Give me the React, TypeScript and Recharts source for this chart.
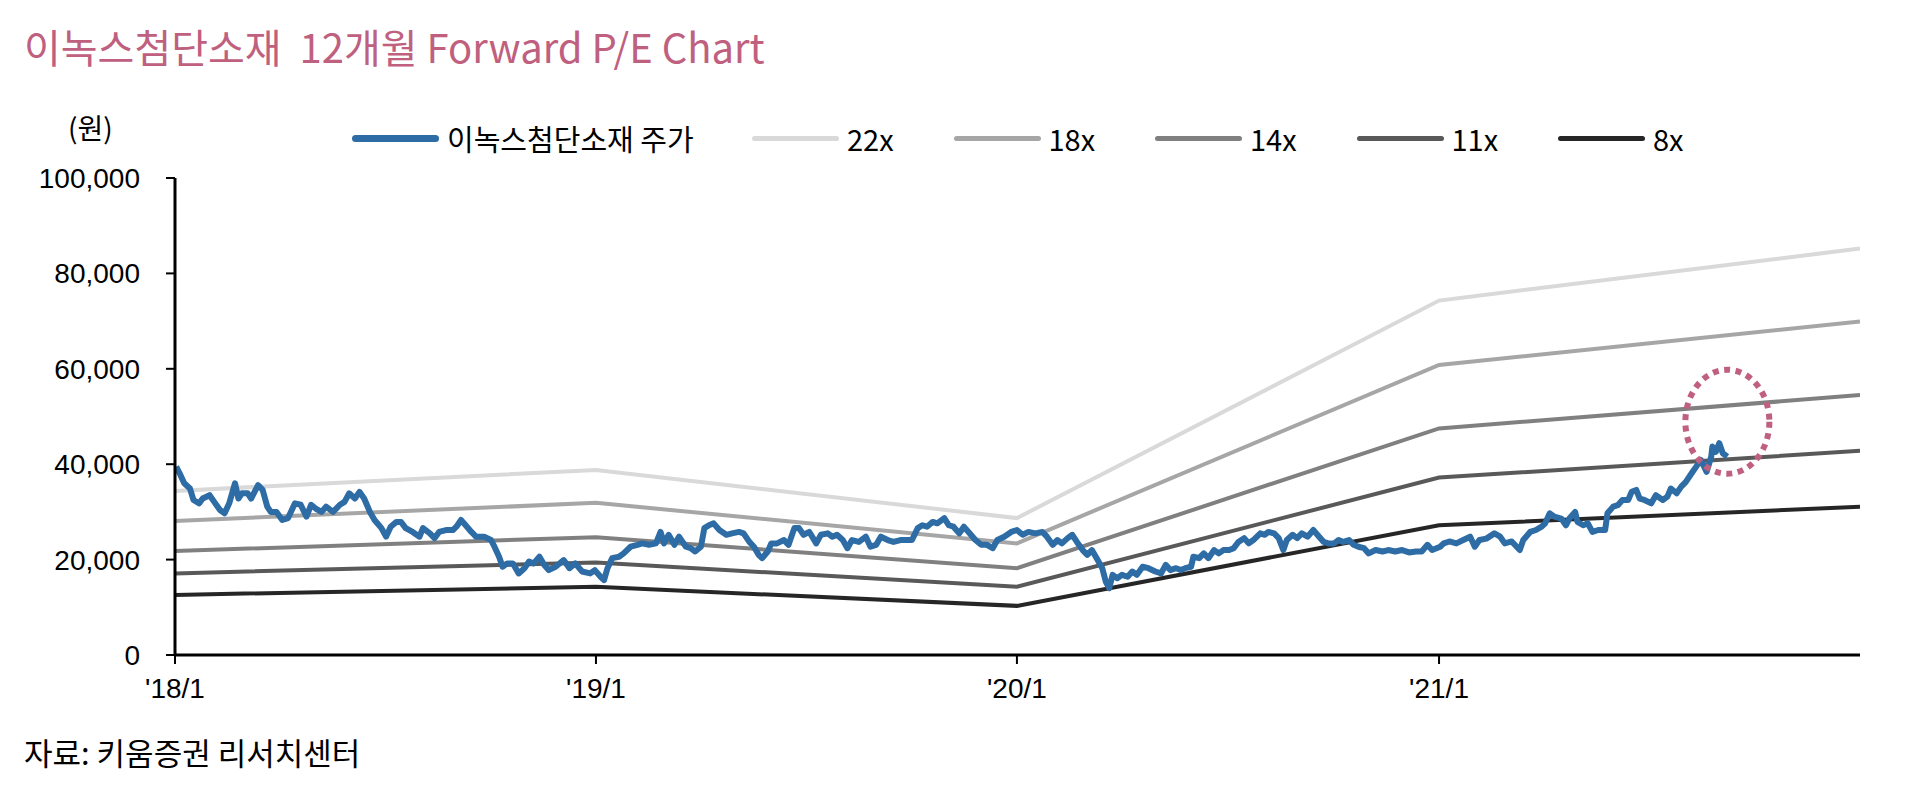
import { LineChart, Line, XAxis, YAxis, ReferenceDot } from 'recharts'

// 이녹스첨단소재 주가 (원)
const PRICE: Array<[string, number]> = [
  ['2018-01-02', 39500], ['2018-01-05', 38100], ['2018-01-09', 36000], ['2018-01-14', 34900],
  ['2018-01-17', 32500], ['2018-01-22', 31800], ['2018-01-25', 32800], ['2018-01-31', 33500],
  ['2018-02-04', 32100], ['2018-02-09', 30400], ['2018-02-13', 29700], ['2018-02-17', 31800],
  ['2018-02-22', 36000], ['2018-02-25', 32800], ['2018-02-28', 33900], ['2018-03-05', 33900],
  ['2018-03-08', 32800], ['2018-03-14', 35600], ['2018-03-18', 34600], ['2018-03-22', 31100],
  ['2018-03-25', 30000], ['2018-03-30', 30000], ['2018-04-04', 28300], ['2018-04-09', 28700],
  ['2018-04-15', 31800], ['2018-04-20', 31500], ['2018-04-25', 29000], ['2018-04-29', 31500],
  ['2018-05-03', 30700], ['2018-05-08', 30000], ['2018-05-12', 31100], ['2018-05-18', 30000],
  ['2018-05-24', 31500], ['2018-05-28', 32100], ['2018-06-01', 33900], ['2018-06-06', 32800],
  ['2018-06-10', 34200], ['2018-06-14', 32800], ['2018-06-19', 30000], ['2018-06-23', 28300],
  ['2018-06-29', 26600], ['2018-07-03', 24800], ['2018-07-07', 26900], ['2018-07-12', 27900],
  ['2018-07-16', 27900], ['2018-07-20', 26600], ['2018-07-26', 25800], ['2018-08-01', 24800],
  ['2018-08-04', 26600], ['2018-08-10', 25500], ['2018-08-14', 24500], ['2018-08-18', 25800],
  ['2018-08-24', 26200], ['2018-08-30', 26200], ['2018-09-02', 26900], ['2018-09-06', 28300],
  ['2018-09-10', 27200], ['2018-09-15', 25800], ['2018-09-19', 24800], ['2018-09-26', 24800],
  ['2018-10-02', 24100], ['2018-10-05', 22700], ['2018-10-09', 20600], ['2018-10-12', 18500],
  ['2018-10-16', 19200], ['2018-10-21', 19200], ['2018-10-26', 17100], ['2018-10-31', 18200],
  ['2018-11-04', 19600], ['2018-11-08', 19200], ['2018-11-13', 20600], ['2018-11-17', 18900],
  ['2018-11-21', 17800], ['2018-11-27', 18500], ['2018-12-04', 19900], ['2018-12-09', 18200],
  ['2018-12-14', 19200], ['2018-12-20', 17500], ['2018-12-27', 17100], ['2018-12-31', 17800],
  ['2019-01-05', 16400], ['2019-01-08', 15700], ['2019-01-11', 18200], ['2019-01-15', 20300],
  ['2019-01-21', 20600], ['2019-01-25', 21300], ['2019-01-31', 22700], ['2019-02-06', 23100],
  ['2019-02-10', 23400], ['2019-02-16', 23100], ['2019-02-22', 23400], ['2019-02-26', 25800],
  ['2019-03-01', 23400], ['2019-03-05', 25200], ['2019-03-10', 23100], ['2019-03-14', 24800],
  ['2019-03-20', 22700], ['2019-03-24', 22400], ['2019-03-28', 21700], ['2019-04-02', 22700],
  ['2019-04-05', 26600], ['2019-04-09', 27200], ['2019-04-13', 27600], ['2019-04-18', 26200],
  ['2019-04-24', 25200], ['2019-04-29', 25500], ['2019-05-05', 25800], ['2019-05-09', 25500],
  ['2019-05-14', 23700], ['2019-05-18', 22700], ['2019-05-22', 21000], ['2019-05-25', 20300],
  ['2019-05-30', 21700], ['2019-06-02', 23400], ['2019-06-07', 23400], ['2019-06-13', 24100],
  ['2019-06-17', 23100], ['2019-06-22', 26600], ['2019-06-26', 26600], ['2019-06-30', 25200],
  ['2019-07-05', 25800], ['2019-07-11', 23400], ['2019-07-15', 25200], ['2019-07-21', 25500],
  ['2019-07-25', 24800], ['2019-07-29', 25200], ['2019-08-03', 24100], ['2019-08-07', 22400],
  ['2019-08-11', 24100], ['2019-08-17', 23700], ['2019-08-23', 24800], ['2019-08-27', 22700],
  ['2019-09-01', 23100], ['2019-09-05', 24800], ['2019-09-11', 24100], ['2019-09-16', 23700],
  ['2019-09-22', 24100], ['2019-09-28', 24100], ['2019-10-02', 24100], ['2019-10-07', 26600],
  ['2019-10-11', 27200], ['2019-10-15', 26900], ['2019-10-20', 27900], ['2019-10-24', 27600],
  ['2019-10-30', 28700], ['2019-11-03', 27200], ['2019-11-07', 26900], ['2019-11-12', 25500],
  ['2019-11-16', 26900], ['2019-11-20', 25800], ['2019-11-26', 24100], ['2019-12-01', 23100],
  ['2019-12-06', 23100], ['2019-12-11', 22400], ['2019-12-15', 24100], ['2019-12-21', 24800],
  ['2019-12-27', 25800], ['2020-01-01', 26200], ['2020-01-06', 25200], ['2020-01-11', 25800],
  ['2020-01-17', 25500], ['2020-01-23', 25800], ['2020-01-27', 24800], ['2020-02-01', 23100],
  ['2020-02-05', 24100], ['2020-02-09', 23400], ['2020-02-14', 24500], ['2020-02-18', 25200],
  ['2020-02-22', 23700], ['2020-02-27', 22000], ['2020-03-02', 21000], ['2020-03-06', 22000],
  ['2020-03-11', 19900], ['2020-03-15', 18200], ['2020-03-18', 15400], ['2020-03-21', 14000],
  ['2020-03-24', 16800], ['2020-03-28', 16100], ['2020-04-01', 16800], ['2020-04-06', 16400],
  ['2020-04-10', 17500], ['2020-04-14', 16800], ['2020-04-19', 18500], ['2020-04-24', 18200],
  ['2020-04-30', 17500], ['2020-05-05', 17100], ['2020-05-09', 18900], ['2020-05-13', 17800],
  ['2020-05-18', 18200], ['2020-05-22', 17800], ['2020-05-26', 18200], ['2020-05-31', 18500],
  ['2020-06-02', 20600], ['2020-06-07', 20300], ['2020-06-11', 21300], ['2020-06-15', 20300],
  ['2020-06-20', 22000], ['2020-06-24', 21300], ['2020-06-28', 22000], ['2020-07-03', 22000],
  ['2020-07-07', 22400], ['2020-07-11', 23700], ['2020-07-16', 24500], ['2020-07-20', 23400],
  ['2020-07-24', 24100], ['2020-07-30', 25500], ['2020-08-03', 25200], ['2020-08-06', 25800],
  ['2020-08-11', 25500], ['2020-08-15', 24500], ['2020-08-19', 22000], ['2020-08-22', 24100],
  ['2020-08-27', 25200], ['2020-08-31', 24500], ['2020-09-04', 25500], ['2020-09-09', 24800],
  ['2020-09-14', 26200], ['2020-09-19', 24800], ['2020-09-23', 23700], ['2020-09-27', 23400],
  ['2020-10-02', 23400], ['2020-10-06', 24100], ['2020-10-10', 23700], ['2020-10-15', 24100],
  ['2020-10-19', 23100], ['2020-10-23', 22700], ['2020-10-28', 22400], ['2020-11-01', 21300],
  ['2020-11-07', 22000], ['2020-11-13', 21700], ['2020-11-18', 22000], ['2020-11-24', 21700],
  ['2020-11-30', 22000], ['2020-12-06', 21500], ['2020-12-12', 21700], ['2020-12-17', 21700],
  ['2020-12-22', 23100], ['2020-12-26', 22000], ['2021-01-02', 22700], ['2021-01-05', 23400],
  ['2021-01-10', 23800], ['2021-01-16', 23400], ['2021-01-22', 24100], ['2021-01-28', 24800],
  ['2021-02-01', 22700], ['2021-02-05', 24100], ['2021-02-11', 24400], ['2021-02-18', 25500],
  ['2021-02-23', 24800], ['2021-02-27', 23400], ['2021-03-05', 23800], ['2021-03-12', 22000],
  ['2021-03-15', 24100], ['2021-03-21', 25800], ['2021-03-26', 26200], ['2021-03-31', 26900],
  ['2021-04-03', 27600], ['2021-04-07', 29700], ['2021-04-11', 29000], ['2021-04-17', 28600],
  ['2021-04-21', 27200], ['2021-04-24', 28600], ['2021-04-29', 30000], ['2021-05-01', 27900],
  ['2021-05-06', 27200], ['2021-05-10', 27600], ['2021-05-14', 25800], ['2021-05-19', 26200],
  ['2021-05-25', 26200], ['2021-05-27', 29700], ['2021-06-01', 31100], ['2021-06-05', 31400],
  ['2021-06-09', 32500], ['2021-06-14', 32500], ['2021-06-17', 34200], ['2021-06-21', 34600],
  ['2021-06-24', 32800], ['2021-06-28', 32500], ['2021-07-04', 31800], ['2021-07-08', 33500],
  ['2021-07-14', 32500], ['2021-07-18', 33200], ['2021-07-21', 34900], ['2021-07-26', 33900],
  ['2021-07-30', 35300], ['2021-08-03', 36300], ['2021-08-08', 38100], ['2021-08-12', 39500],
  ['2021-08-16', 40900], ['2021-08-21', 38400], ['2021-08-25', 41600], ['2021-08-26', 43700],
  ['2021-08-29', 42600], ['2021-09-01', 44400], ['2021-09-04', 42300], ['2021-09-08', 41600],
]

// P/E band values at each January
const BAND_DATES = ['2018-01-01', '2019-01-01', '2020-01-01', '2021-01-01', '2022-01-01']
const PE22 = [34400, 38800, 28700, 74300, 85200]
const PE18 = [28100, 31900, 23400, 60800, 69900]
const PE14 = [21800, 24700, 18200, 47500, 54500]
const PE11 = [17100, 19400, 14300, 37200, 42800]
const PE8 = [12600, 14300, 10300, 27200, 31100]

const BANDS = [
  { key: '22x', values: PE22, color: '#d9d9d9' },
  { key: '18x', values: PE18, color: '#a6a6a6' },
  { key: '14x', values: PE14, color: '#808080' },
  { key: '11x', values: PE11, color: '#595959' },
  { key: '8x', values: PE8, color: '#262626' },
]

const X_TICKS = ['2018-01-01', '2019-01-01', '2020-01-01', '2021-01-01']
const Y_TICKS = [0, 20000, 40000, 60000, 80000, 100000]
const HIGHLIGHT = { date: '2021-09-08', value: 48900 }

const PRICE_COLOR = '#2e6ca5'
const ACCENT = '#c0607f'
const KR_FONT = '"Noto Sans CJK KR", "Noto Sans", sans-serif'
const NUM_FONT = '"Liberation Sans", Arial, sans-serif'

const priceData = PRICE.map(([d, v]) => ({ t: Date.parse(d), v }))
const bandData = (values: number[]) =>
  BAND_DATES.map((d, i) => ({ t: Date.parse(d), v: values[i] }))

const fmtYear = (t: number) => {
  const d = new Date(t)
  return `'${String(d.getUTCFullYear()).slice(2)}/${d.getUTCMonth() + 1}`
}

const legendItems = [
  { label: '이녹스첨단소재 주가', color: PRICE_COLOR, left: 352, thick: 7 },
  ...BANDS.map((b, i) => ({ label: b.key, color: b.color, left: 752 + i * 201.5, thick: 5 })),
]

function Ellipse(props: any) {
  const { cx, cy } = props
  return (
    <ellipse
      cx={cx}
      cy={cy}
      rx={42}
      ry={52}
      fill="none"
      stroke={ACCENT}
      strokeWidth={6}
      strokeDasharray="6 5.5"
    />
  )
}

export default function App() {
  return (
    <div style={{ position: 'relative', width: 1912, height: 786, background: '#fff' }}>
      <style>{`body{margin:0}`}</style>
      <div
        style={{
          position: 'absolute', left: 24, top: 24, fontFamily: KR_FONT, fontSize: 40,
          lineHeight: '44px', color: ACCENT, whiteSpace: 'pre',
        }}
      >
        {'이녹스첨단소재  12개월 Forward P/E Chart'}
      </div>
      <div
        style={{
          position: 'absolute', left: 68, top: 111, fontFamily: KR_FONT, fontSize: 28,
          lineHeight: '32px', color: '#000',
        }}
      >
        (원)
      </div>
      {legendItems.map((it) => (
        <div
          key={it.label}
          style={{
            position: 'absolute', left: it.left, top: 122, height: 32, display: 'flex',
            alignItems: 'center', fontFamily: KR_FONT, fontSize: 29, color: '#000',
            whiteSpace: 'pre',
          }}
        >
          <span
            style={{
              display: 'inline-block', width: 87, height: it.thick, background: it.color,
              borderRadius: it.thick / 2, marginRight: 8,
            }}
          />
          {it.label}
        </div>
      ))}
      <LineChart
        width={1912}
        height={786}
        margin={{ top: 178, right: 52, bottom: 71, left: 0 }}
        style={{ position: 'absolute', left: 0, top: 0 }}
      >
        <XAxis
          dataKey="t"
          type="number"
          scale="linear"
          domain={[Date.parse('2018-01-01'), Date.parse('2022-01-01')]}
          ticks={X_TICKS.map((d) => Date.parse(d))}
          tickFormatter={fmtYear}
          allowDataOverflow
          height={60}
          tickSize={9}
          tickMargin={14}
          axisLine={{ stroke: '#000', strokeWidth: 3 }}
          tickLine={{ stroke: '#000', strokeWidth: 2 }}
          tick={{ fill: '#000', fontSize: 28, fontFamily: NUM_FONT }}
        />
        <YAxis
          type="number"
          domain={[0, 100000]}
          ticks={Y_TICKS}
          tickFormatter={(v: number) => v.toLocaleString('en-US')}
          width={175}
          tickSize={9}
          tickMargin={26}
          axisLine={{ stroke: '#000', strokeWidth: 3 }}
          tickLine={{ stroke: '#000', strokeWidth: 2 }}
          tick={{ fill: '#000', fontSize: 28, fontFamily: NUM_FONT }}
        />
        {BANDS.map((b) => (
          <Line
            key={b.key}
            data={bandData(b.values)}
            dataKey="v"
            type="linear"
            stroke={b.color}
            strokeWidth={4}
            dot={false}
            isAnimationActive={false}
          />
        ))}
        <Line
          data={priceData}
          dataKey="v"
          type="linear"
          stroke={PRICE_COLOR}
          strokeWidth={6}
          strokeLinejoin="round"
          dot={false}
          isAnimationActive={false}
        />
        <ReferenceDot
          x={Date.parse(HIGHLIGHT.date)}
          y={HIGHLIGHT.value}
          shape={Ellipse}
          isFront
        />
      </LineChart>
      <div
        style={{
          position: 'absolute', left: 24, top: 734, fontFamily: KR_FONT, fontSize: 31,
          lineHeight: '36px', color: '#000', whiteSpace: 'pre',
        }}
      >
        자료: 키움증권 리서치센터
      </div>
    </div>
  )
}
